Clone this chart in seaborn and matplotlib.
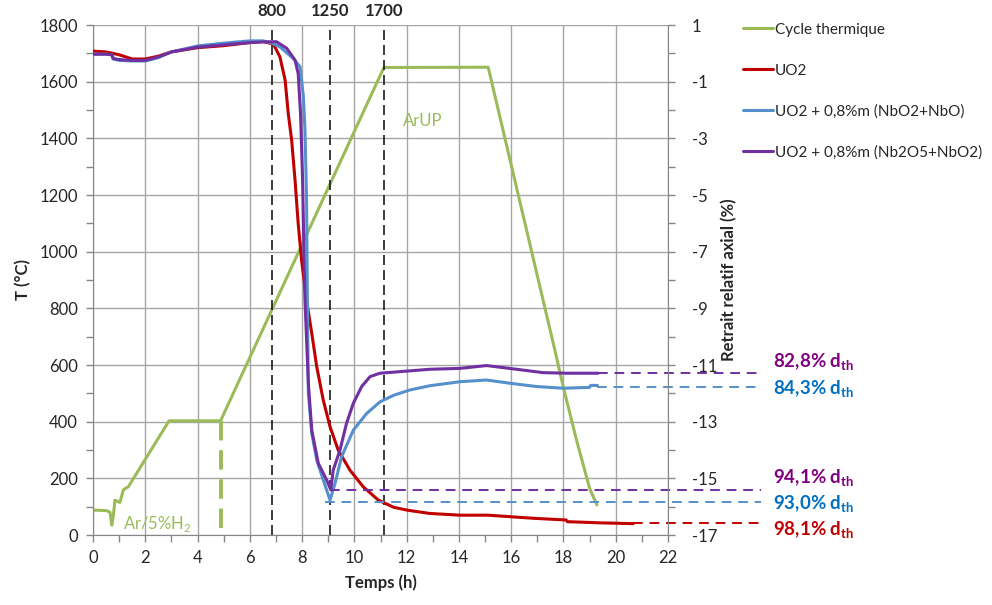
import numpy as np
import pandas as pd
import matplotlib
matplotlib.use("Agg")
import matplotlib.pyplot as plt
import matplotlib.transforms as mtransforms
from matplotlib.lines import Line2D
from matplotlib.ticker import MultipleLocator
import seaborn as sns

# ---- data ----
# thermal cycle (left axis, degC)
t_cycle = [0, 0.52, 0.65, 0.72, 0.78, 0.84, 0.95, 1.03, 1.16, 1.25, 1.35, 2.91,
           4.88, 11.13, 15.12, 17.67, 18.0, 18.5, 19.0, 19.28]
T_cycle = [88, 86, 80, 35, 70, 123, 118, 115, 159, 165, 170, 403,
           403, 1650, 1651, 653, 520, 335, 165, 106]

# axial shrinkage (right axis, %)
t_uo2 = [0, 0.5, 1.0, 1.5, 2.0, 2.5, 3.0, 4.0, 5.0, 6.0, 6.5, 6.9, 7.15, 7.35,
         7.47, 7.6, 7.73, 7.85, 7.98, 8.17, 8.37, 8.56, 8.81, 9.07, 9.38, 9.83,
         10.34, 10.92, 11.5, 12.0, 12.89, 14.04, 15.1, 16.85, 18.1, 18.15, 19.39, 20.67]
r_uo2 = [0.08, 0.05, -0.05, -0.2, -0.2, -0.1, 0.05, 0.2, 0.27, 0.38, 0.42, 0.33,
         -0.12, -0.94, -2.12, -3.06, -4.47, -6.0, -7.3, -8.71, -9.88, -11.06,
         -12.24, -13.18, -14.0, -14.71, -15.3, -15.77, -16.02, -16.12, -16.24,
         -16.3, -16.3, -16.41, -16.47, -16.53, -16.57, -16.6]

t_nbo = [0, 0.5, 0.72, 0.77, 1.0, 1.5, 2.0, 2.5, 3.0, 4.0, 5.0, 6.0, 6.5, 6.8,
         7.15, 7.66, 7.92, 8.05, 8.11, 8.17, 8.2, 8.24, 8.37, 8.56, 8.81, 9.07,
         9.26, 9.51, 9.96, 10.47, 10.98, 11.5, 12.13, 12.9, 14.04, 15.06, 16.0,
         16.97, 17.99, 19.0, 19.04, 19.3]
r_nbo = [-0.03, -0.03, -0.05, -0.2, -0.25, -0.27, -0.27, -0.15, 0.05, 0.26, 0.36,
         0.44, 0.44, 0.38, 0.23, -0.18, -0.47, -1.53, -2.7, -5.06, -8.5, -12.0,
         -13.41, -14.35, -15.06, -15.77, -15.18, -14.24, -13.3, -12.71, -12.3,
         -12.07, -11.88, -11.73, -11.59, -11.53, -11.65, -11.76, -11.82, -11.79,
         -11.72, -11.72]

t_nb2o5 = [0, 0.5, 0.72, 0.77, 1.0, 1.5, 2.0, 2.5, 3.0, 4.0, 5.0, 6.0, 6.5, 6.9,
           7.02, 7.41, 7.73, 7.85, 7.94, 8.02, 8.08, 8.11, 8.24, 8.37, 8.62, 8.94,
           9.1, 9.19, 9.45, 9.7, 9.96, 10.28, 10.6, 10.98, 12.9, 14.04, 15.06,
           16.2, 17.22, 18.12, 19.33]
r_nb2o5 = [-0.03, -0.03, -0.05, -0.18, -0.22, -0.25, -0.25, -0.13, 0.05, 0.22, 0.3,
           0.38, 0.4, 0.41, 0.41, 0.18, -0.24, -0.71, -2.12, -4.47, -7.41, -8.71,
           -11.65, -13.3, -14.47, -15.06, -15.41, -14.71, -14.0, -13.06, -12.35,
           -11.76, -11.41, -11.29, -11.15, -11.12, -11.02, -11.15, -11.27, -11.29,
           -11.29]

labels = ["Cycle thermique", "UO2", "UO2 + 0,8%m (NbO2+NbO)", "UO2 + 0,8%m (Nb2O5+NbO2)"]
colors = ["#9BBB59", "#C00000", "#5590CC", "#7030A0"]

# temperatures marked on top
mark_t = [6.85, 9.07, 11.13]
mark_lbl = ["800", "1250", "1700"]

# final densities (dashed level, start time, text)
dens_level = [-11.29, -11.76, -15.42, -15.85, -16.56]
dens_start = [19.33, 19.3, 9.07, 8.88, 20.67]
dens_text = ["82,8%", "84,3%", "94,1%", "93,0%", "98,1%"]
dens_line_col = ["#7030A0", "#5590CC", "#7030A0", "#5590CC", "#C00000"]
dens_text_col = ["#800080", "#0070C0", "#800080", "#0070C0", "#C00000"]
dens_text_y = [-10.9, -11.85, -14.99, -15.91, -16.83]

# ---- figure ----
sns.set_style("white")
plt.rcParams['font.family'] = ['Lato', 'DejaVu Sans']
plt.rcParams['mathtext.fontset'] = 'custom'
plt.rcParams['mathtext.rm'] = 'Lato'
plt.rcParams['mathtext.bf'] = 'Lato:bold'
plt.rcParams['axes.unicode_minus'] = False

fig = plt.figure(figsize=(9.92, 6.05), dpi=100)
ax = fig.add_axes([93 / 992, 1 - 535 / 605, 575 / 992, 510 / 605])
ax2 = ax.twinx()

df_cycle = pd.DataFrame({"t": t_cycle, "T": T_cycle})
sns.lineplot(data=df_cycle, x="t", y="T", ax=ax, color=colors[0], lw=2.2,
             sort=False, estimator=None)
# gas change
ax.plot([4.88, 4.88], [403, 0], color=colors[0], lw=2.8, dashes=(5, 2.5))

for tt, r, c in [(t_uo2, r_uo2, colors[1]), (t_nbo, r_nbo, colors[2]),
                 (t_nb2o5, r_nb2o5, colors[3])]:
    d = pd.DataFrame({"t": tt, "r": r})
    sns.lineplot(data=d, x="t", y="r", ax=ax2, color=c, lw=2.2, sort=False, estimator=None)

for lvl, x0, c in zip(dens_level, dens_start, dens_line_col):
    ax2.plot([x0, 25.55], [lvl, lvl], color=c, lw=1.4, dashes=(5, 3.5), clip_on=False)

for lvl, txt, c in zip(dens_text_y, dens_text, dens_text_col):
    ax2.text(26.0, lvl, txt + r" d$_{\mathbf{th}}$", color=c, fontsize=13.5,
             fontweight="bold", va="center", ha="left", clip_on=False)

trans = mtransforms.blended_transform_factory(ax.transData, ax.transAxes)
for x, lb in zip(mark_t, mark_lbl):
    ax.axvline(x, color="#1a1a1a", lw=1.2, dashes=(6, 3))
    ax.text(x, 1.012, lb, transform=trans, ha="center", va="bottom",
            fontsize=12, fontweight="bold")

ax.text(11.86, 1461, "ArUP", color=colors[0], fontsize=12, va="center", ha="left")
ax.text(1.15, 39, r"Ar/5%H$_2$", color=colors[0], fontsize=12, va="center", ha="left")

# axes
ax.set_xlim(0, 22)
ax.set_ylim(0, 1800)
ax2.set_ylim(-17, 1)
ax.xaxis.set_major_locator(MultipleLocator(2))
ax.xaxis.set_minor_locator(MultipleLocator(1))
ax.yaxis.set_major_locator(MultipleLocator(200))
ax.yaxis.set_minor_locator(MultipleLocator(100))
ax2.set_yticks(np.arange(1, -18, -2))
ax2.yaxis.set_minor_locator(MultipleLocator(1))
ax.grid(True, which="major", color="#a6a6a6", lw=1.0)
ax.set_axisbelow(True)

for a in (ax, ax2):
    for s in a.spines.values():
        s.set_color("#868686")
    a.spines["top"].set_visible(False)
ax.spines["right"].set_visible(False)
ax2.spines["left"].set_visible(False)
ax2.spines["bottom"].set_visible(False)

ax.tick_params(axis="both", which="major", direction="out", length=5, width=1,
               color="#868686", labelsize=12, pad=6, left=True, bottom=True)
ax.tick_params(axis="both", which="minor", direction="out", length=5, width=1,
               color="#868686", left=True, bottom=True)
ax2.tick_params(axis="y", which="major", direction="out", length=5, width=1,
                color="#868686", labelsize=12, pad=12, right=True)
ax2.tick_params(axis="y", which="minor", direction="out", length=5, width=1,
                color="#868686", right=True)

ax.set_xlabel("Temps (h)", fontsize=12, fontweight="bold", labelpad=6)
ax.set_ylabel("T (°C)", fontsize=12, fontweight="bold", labelpad=6)
ax2.set_ylabel("Retrait relatif axial (%)", fontsize=12, fontweight="bold", labelpad=3)

handles = [Line2D([], [], color=c, lw=2.2) for c in colors]
fig.legend(handles, labels, loc="upper left", bbox_to_anchor=(0.735, 0.985),
           frameon=False, fontsize=11, handlelength=2.0, handletextpad=0.1,
           labelspacing=1.75)

fig.savefig("out.png", dpi=100)
